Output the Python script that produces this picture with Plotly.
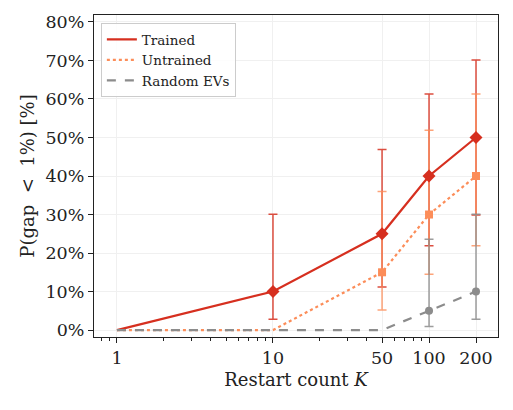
import plotly.graph_objects as go

K = [1, 10, 50, 100, 200]
x_ticks = [1, 10, 50, 100, 200]
x_ticklabels = ["1", "10", "50", "100", "200"]
y_ticks = [0, 10, 20, 30, 40, 50, 60, 70, 80]
y_ticklabels = ["0%", "10%", "20%", "30%", "40%", "50%", "60%", "70%", "80%"]

trained = [0, 10, 25, 40, 50]
untrained = [0, 0, 15, 30, 40]
random_evs = [0, 0, 0, 5, 10]

# error bar bounds (percent), None where no bar drawn
trained_lo = [None, 2.8, 11.2, 21.9, 29.9]
trained_hi = [None, 30.1, 46.9, 61.3, 70.1]
untrained_lo = [None, None, 5.2, 14.5, 21.9]
untrained_hi = [None, None, 36.0, 51.9, 61.3]
random_lo = [None, None, None, 0.9, 2.8]
random_hi = [None, None, None, 23.6, 30.1]

series = [
    ("Trained", trained, trained_lo, trained_hi, "#d62f1f", "rgba(214,47,31,0.85)", "solid", "diamond", 10),
    ("Untrained", untrained, untrained_lo, untrained_hi, "#fc8d59", "rgba(252,141,89,0.8)", "dot", "square", 8),
    ("Random EVs", random_evs, random_lo, random_hi, "#8c8c8c", "rgba(140,140,140,0.85)", "dash", "circle", 8),
]

fig = go.Figure()

# error bars first
for name, vals, lo, hi, col, ecol, dash, sym, msz in series:
    xs, ys, up, dn = [], [], [], []
    for k, v, l, h in zip(K, vals, lo, hi):
        if l is not None:
            xs.append(k); ys.append(v); up.append(h - v); dn.append(v - l)
    fig.add_trace(go.Scatter(
        x=xs, y=ys, mode="markers", marker=dict(size=1, opacity=0, color=col),
        error_y=dict(type="data", array=up, arrayminus=dn, color=ecol, thickness=1.5, width=4.5),
        showlegend=False, hoverinfo="skip"))

# lines and markers
for name, vals, lo, hi, col, ecol, dash, sym, msz in series:
    fig.add_trace(go.Scatter(
        x=K, y=vals, mode="lines", name=name,
        line=dict(color=col, width=2.2, dash=dash)))
    xs = [k for k, v, l in zip(K, vals, lo) if l is not None]
    ys = [v for k, v, l in zip(K, vals, lo) if l is not None]
    fig.add_trace(go.Scatter(
        x=xs, y=ys, mode="markers", showlegend=False,
        marker=dict(symbol=sym, size=msz, color=col, line=dict(width=0))))

minor_vals = [0.7, 0.8, 0.9] + [i for i in range(2, 10)] + [i * 10 for i in range(2, 10)] + [300, 400]

fig.update_layout(
    width=513, height=410,
    margin=dict(l=94, r=15, t=15, b=73),
    plot_bgcolor="white", paper_bgcolor="white",
    font=dict(family="DejaVu Serif", size=14, color="#222"),
    legend=dict(x=0.017, y=0.975, xanchor="left", yanchor="top",
                bgcolor="rgba(255,255,255,0.85)", bordercolor="#cccccc", borderwidth=1,
                font=dict(size=13.5), tracegroupgap=0, itemwidth=30),
    xaxis=dict(
        type="log", range=[-0.147, 2.442],
        tickmode="array", tickvals=x_ticks, ticktext=x_ticklabels,
        ticks="outside", ticklen=5, tickwidth=1, tickcolor="#222",
        showline=True, linecolor="#222", linewidth=1.2, mirror=True,
        showgrid=True, gridcolor="#f0f0f0", gridwidth=1,
        zeroline=False,
        tickfont=dict(size=17.5),
        minor=dict(tickmode="array", tickvals=minor_vals, ticks="outside", ticklen=3,
                   tickcolor="#222", showgrid=False),
        title=dict(text="Restart count <i>K</i>", font=dict(size=18), standoff=6),
    ),
    yaxis=dict(
        range=[-1.8, 81.8],
        tickmode="array", tickvals=y_ticks, ticktext=y_ticklabels,
        ticks="outside", ticklen=5, tickwidth=1, tickcolor="#222",
        showline=True, linecolor="#222", linewidth=1.2, mirror=True,
        showgrid=True, gridcolor="#f0f0f0", gridwidth=1,
        zeroline=False,
        tickfont=dict(size=17.5),
        title=dict(text="P(gap  <  1%) [%]", font=dict(size=18), standoff=6),
    ),
)

fig.write_html("out.html")
